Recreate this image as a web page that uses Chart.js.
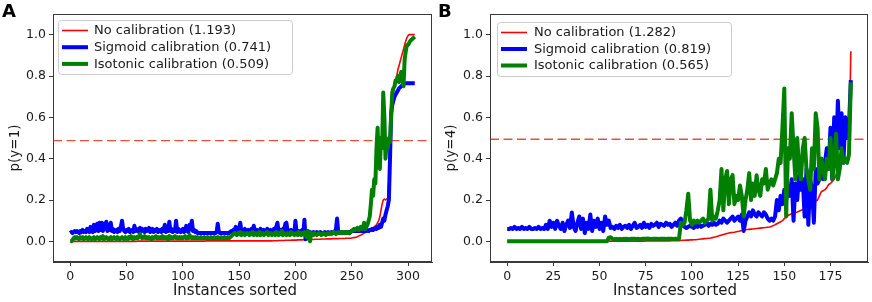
<!DOCTYPE html>
<html><head><meta charset="utf-8">
<script src="https://cdn.jsdelivr.net/npm/chart.js@4.4.0/dist/chart.umd.min.js"></script>
<style>
html,body{margin:0;padding:0;background:#fff;}
#wrap{position:relative;width:872px;height:302px;overflow:hidden;background:#fff;}
.panel{position:absolute;top:0;width:436px;height:302px;}
canvas{display:block;}
</style></head><body>
<div id="wrap">
<div class="panel" style="left:0"><canvas id="cA" width="436" height="302"></canvas></div>
<div class="panel" style="left:436px"><canvas id="cB" width="436" height="302"></canvas></div>
</div>
<script>
// ---------------- DATA ----------------
const panelLabels = ['A', 'B'];
const yTitles = ['p(y=1)', 'p(y=4)'];
const xTitle = 'Instances sorted';
const yTicks = [0.0, 0.2, 0.4, 0.6, 0.8, 1.0];
const xTicksA = [0, 50, 100, 150, 200, 250, 300];
const xTicksB = [0, 25, 50, 75, 100, 125, 150, 175];
const legendA = ['No calibration (1.193)', 'Sigmoid calibration (0.741)', 'Isotonic calibration (0.509)'];
const legendB = ['No calibration (1.282)', 'Sigmoid calibration (0.819)', 'Isotonic calibration (0.565)'];
const thresholdA = 0.487;
const thresholdB = 0.494;

// Panel A: 307 sorted instances
const redA = [
0,0,0,0,0,0,0,0,0,0,0,0,0,0,0,0,0,0,0,0,
0,0,0,0,0,0,0,0,0,0,0,0,0,0,0,0,0,0,0,0,
0,0,0,0,0,0,0,0,0,0,0,0,0,0,0,0,0,0,0,0,
0.001,0.001,0.001,0.001,0.001,0.001,0.001,0.001,0.001,0.001,0.001,0.001,0.001,0.001,0.001,0.001,0.001,0.001,0.001,0.001,
0.001,0.001,0.001,0.001,0.001,0.001,0.001,0.001,0.001,0.001,0.001,0.001,0.001,0.001,0.001,0.001,0.001,0.001,0.001,0.001,
0.001,0.001,0.001,0.001,0.001,0.001,0.001,0.001,0.001,0.001,0.001,0.001,0.001,0.001,0.001,0.001,0.001,0.001,0.001,0.001,
0.002,0.002,0.002,0.002,0.002,0.002,0.002,0.002,0.002,0.002,0.002,0.002,0.002,0.002,0.002,0.002,0.002,0.002,0.002,0.002,
0.002,0.002,0.002,0.002,0.002,0.002,0.002,0.002,0.002,0.002,0.002,0.002,0.002,0.002,0.002,0.002,0.002,0.002,0.002,0.002,
0.002,0.002,0.002,0.002,0.002,0.002,0.002,0.002,0.002,0.002,0.002,0.002,0.002,0.002,0.002,0.002,0.002,0.002,0.002,0.002,
0.003,0.003,0.003,0.003,0.003,0.004,0.004,0.004,0.004,0.004,0.004,0.005,0.005,0.005,0.005,0.005,0.005,0.006,0.006,0.006,
0.006,0.006,0.007,0.007,0.007,0.007,0.007,0.008,0.008,0.008,0.008,0.008,0.009,0.009,0.009,0.009,0.009,0.01,0.01,0.01,
0.01,0.01,0.01,0.011,0.011,0.011,0.011,0.011,0.012,0.012,0.012,0.012,0.012,0.013,0.013,0.013,0.013,0.013,0.013,0.014,
0.014,0.014,0.014,0.014,0.014,0.015,0.015,0.015,0.015,0.015,0.016,0.017,0.018,0.019,0.02,0.022,0.025,0.028,0.03,0.033,
0.036,0.04,0.043,0.046,0.05,0.053,0.056,0.06,0.063,0.066,0.07,0.075,0.08,0.09,0.1,0.12,0.15,0.18,0.2,0.205,
0.2,0.205,0.21,0.3,0.5,0.62,0.68,0.72,0.75,0.78,0.8,0.83,0.85,0.87,0.89,0.91,0.93,0.95,0.97,0.985,
0.995,1,1,1,1,1,1];

const blueA = [
0.04,0.045,0.04,0.045,0.05,0.045,0.05,0.045,0.04,0.05,0.045,0.055,0.045,0.05,0.045,0.06,0.05,0.045,0.07,0.05,
0.045,0.08,0.05,0.06,0.085,0.05,0.09,0.055,0.09,0.05,0.085,0.06,0.095,0.05,0.08,0.055,0.09,0.05,0.06,0.045,
0.05,0.055,0.045,0.06,0.05,0.07,0.1,0.06,0.05,0.045,0.055,0.05,0.06,0.045,0.05,0.055,0.045,0.075,0.05,0.06,
0.055,0.045,0.065,0.05,0.06,0.05,0.045,0.06,0.05,0.055,0.065,0.045,0.05,0.06,0.045,0.055,0.05,0.06,0.045,0.05,
0.055,0.045,0.06,0.05,0.08,0.045,0.055,0.05,0.095,0.05,0.06,0.045,0.055,0.05,0.1,0.045,0.06,0.05,0.045,0.055,
0.06,0.045,0.05,0.075,0.05,0.045,0.08,0.06,0.1,0.05,0.055,0.045,0.05,0.04,0.04,0.04,0.04,0.04,0.04,0.04,
0.04,0.04,0.04,0.04,0.04,0.04,0.04,0.04,0.04,0.04,0.045,0.085,0.045,0.04,0.04,0.04,0.04,0.04,0.04,0.04,
0.04,0.04,0.045,0.05,0.045,0.055,0.05,0.07,0.05,0.045,0.06,0.09,0.05,0.045,0.055,0.06,0.045,0.05,0.055,0.045,
0.05,0.06,0.045,0.075,0.05,0.045,0.055,0.05,0.045,0.06,0.05,0.045,0.055,0.05,0.045,0.06,0.05,0.045,0.055,0.05,
0.045,0.06,0.05,0.07,0.09,0.05,0.045,0.055,0.05,0.06,0.045,0.085,0.09,0.05,0.045,0.04,0.055,0.045,0.05,0.04,
0.1,0.045,0.04,0.05,0.045,0.04,0.055,0.04,0.105,0.01,0.045,0.05,0.04,0.045,0.04,0.04,0.045,0.04,0.04,0.045,
0.04,0.04,0.045,0.04,0.04,0.04,0.045,0.04,0.04,0.045,0.04,0.04,0.045,0.04,0.04,0.045,0.06,0.11,0.045,0.04,
0.04,0.045,0.04,0.04,0.045,0.04,0.04,0.045,0.04,0.045,0.05,0.05,0.05,0.05,0.05,0.05,0.05,0.05,0.05,0.05,
0.05,0.05,0.05,0.05,0.055,0.05,0.055,0.055,0.06,0.055,0.06,0.065,0.06,0.07,0.065,0.08,0.07,0.09,0.11,0.1,
0.13,0.15,0.17,0.2,0.4,0.62,0.66,0.68,0.7,0.71,0.72,0.73,0.74,0.745,0.75,0.755,0.76,0.765,0.765,0.765,
0.765,0.765,0.765,0.765,0.765,0.765,0.765];

const greenA = [
0,0,0.005,0.015,0.02,0.015,0.02,0.015,0.01,0.02,0.015,0.02,0.01,0.015,0.02,0.015,0.01,0.02,0.015,0.01,
0.015,0.02,0.01,0.015,0.02,0.015,0.01,0.02,0.015,0.025,0.01,0.015,0.02,0.015,0.01,0.015,0.02,0.01,0.015,0.02,
0.015,0.01,0.02,0.015,0.01,0.015,0.02,0.015,0.01,0.02,0.015,0.01,0.02,0.015,0.025,0.015,0.01,0.02,0.015,0.02,
0.015,0.025,0.035,0.02,0.015,0.02,0.025,0.015,0.02,0.015,0.02,0.015,0.01,0.02,0.015,0.02,0.025,0.015,0.02,0.015,
0.02,0.015,0.025,0.015,0.02,0.015,0.02,0.01,0.025,0.015,0.02,0.015,0.02,0.025,0.015,0.02,0.015,0.02,0.015,0.02,
0.015,0.02,0.025,0.015,0.02,0.015,0.03,0.02,0.015,0.02,0.015,0.02,0.015,0.02,0.015,0.015,0.02,0.015,0.015,0.02,
0.015,0.015,0.02,0.015,0.015,0.02,0.015,0.015,0.02,0.015,0.015,0.02,0.015,0.015,0.02,0.015,0.015,0.02,0.015,0.015,
0.02,0.015,0.02,0.025,0.03,0.035,0.04,0.035,0.03,0.04,0.035,0.045,0.03,0.035,0.04,0.03,0.035,0.04,0.035,0.03,
0.04,0.035,0.045,0.03,0.035,0.04,0.03,0.035,0.045,0.03,0.035,0.04,0.03,0.035,0.04,0.045,0.03,0.035,0.04,0.03,
0.035,0.04,0.03,0.045,0.035,0.03,0.04,0.035,0.05,0.03,0.04,0.035,0.03,0.04,0.035,0.03,0.045,0.035,0.04,0.03,
0.035,0.04,0.03,0.045,0.035,0.03,0.04,0.035,0.045,0.03,0.02,0.05,0.035,0.0,0.04,0.035,0.03,0.04,0.035,0.03,
0.035,0.04,0.035,0.03,0.035,0.04,0.035,0.03,0.035,0.04,0.035,0.04,0.035,0.04,0.045,0.04,0.035,0.04,0.045,0.04,
0.04,0.045,0.04,0.045,0.04,0.045,0.04,0.045,0.04,0.045,0.05,0.055,0.06,0.055,0.06,0.065,0.055,0.06,0.07,0.06,
0.065,0.09,0.06,0.07,0.08,0.1,0.12,0.18,0.25,0.22,0.3,0.28,0.45,0.55,0.38,0.35,0.5,0.45,0.72,0.6,
0.4,0.48,0.45,0.5,0.48,0.6,0.72,0.74,0.75,0.78,0.78,0.8,0.77,0.8,0.82,0.78,0.75,0.88,0.92,0.95,
0.95,0.96,0.97,0.975,0.98,0.985,0.99];

// Panel B: 187 sorted instances
const redB = [
0,0,0,0,0,0,0,0,0,0,0,0,0,0,0,0,0,0,0,0,
0,0,0,0,0,0,0,0,0,0,0,0,0,0,0,0,0,0,0,0,
0,0,0,0,0,0,0,0,0,0,0,0,0,0,0,
0.001,0.001,0.001,0.001,0.001,0.001,0.001,0.001,0.001,0.001,0.001,0.001,0.001,0.001,0.001,0.001,0.001,0.001,0.001,0.001,
0.002,0.002,0.002,0.002,0.002,0.002,0.002,0.002,0.002,0.002,0.002,0.002,0.002,0.002,0.003,0.003,0.003,0.003,0.003,
0.004,0.005,0.005,0.006,0.006,0.007,0.007,0.008,0.008,0.009,0.01,0.011,0.012,0.013,0.014,0.015,0.016,0.018,0.02,0.022,
0.025,0.028,0.03,0.033,0.036,0.038,0.04,0.042,0.043,0.044,0.046,0.048,0.05,0.052,0.054,0.056,0.057,0.058,0.059,0.06,
0.061,0.062,0.063,0.064,0.065,0.066,0.067,0.068,0.069,0.072,0.076,0.08,0.085,0.09,0.095,0.1,0.11,0.12,0.125,0.13,
0.133,0.136,0.139,0.142,0.146,0.15,0.153,0.157,0.16,0.165,0.17,0.18,0.19,0.195,0.2,0.22,0.24,0.245,0.25,0.26,
0.275,0.28,0.29,0.3,0.32,0.35,0.37,0.375,0.38,0.385,0.39,0.4,0.92];

const blueB = [
0.06,0.06,0.065,0.06,0.07,0.06,0.065,0.06,0.07,0.06,0.065,0.06,0.07,0.06,0.06,0.065,0.06,0.07,0.06,0.065,
0.06,0.08,0.06,0.1,0.07,0.09,0.06,0.1,0.075,0.06,0.09,0.05,0.08,0.1,0.065,0.14,0.07,0.05,0.09,0.12,
0.06,0.11,0.04,0.09,0.06,0.13,0.05,0.1,0.07,0.11,0.06,0.09,0.05,0.12,0.08,0.1,0.065,0.07,0.06,0.075,
0.065,0.08,0.06,0.07,0.075,0.065,0.08,0.06,0.075,0.09,0.065,0.07,0.08,0.065,0.09,0.07,0.08,0.065,0.085,0.075,
0.08,0.09,0.07,0.085,0.08,0.075,0.09,0.08,0.085,0.07,0.08,0.09,0.075,0.1,0.11,0.08,0.07,0.065,0.07,0.075,
0.07,0.065,0.075,0.07,0.08,0.07,0.075,0.08,0.09,0.075,0.085,0.08,0.09,0.08,0.085,0.1,0.09,0.11,0.1,0.09,
0.1,0.11,0.12,0.1,0.11,0.12,0.1,0.13,0.05,0.1,0.12,0.14,0.12,0.15,0.13,0.12,0.14,0.13,0.12,0.14,
0.13,0.11,0.1,0.11,0.1,0.12,0.2,0.15,0.22,0.18,0.25,0.2,0.27,0.22,0.3,0.1,0.28,0.2,0.32,0.25,
0.3,0.12,0.35,0.08,0.3,0.25,0.09,0.35,0.28,0.3,0.4,0.3,0.38,0.45,0.35,0.55,0.3,0.6,0.4,0.68,
0.45,0.62,0.38,0.6,0.5,0.55,0.78];

const greenB = [
0,0,0,0,0,0,0,0,0,0,0,0,0,0,0,0,0,0,0,0,
0,0,0,0,0,0,0,0,0,0,0,0,0,0,0,0,0,0,0,0,
0,0,0,0,0,0,0,0,0,0,0,0,0,0,0,
0.018,0.02,0.012,0.01,0.012,0.01,0.012,0.01,0.012,0.011,0.012,0.01,0.012,0.013,0.012,0.011,0.012,0.01,0.012,0.013,
0.012,0.014,0.012,0.011,0.012,0.013,0.012,0.011,0.012,0.013,0.012,0.011,0.012,0.013,0.012,0.011,0.012,0.011,0.012,
0.09,0.08,0.09,0.15,0.23,0.1,0.08,0.1,0.09,0.1,0.09,0.1,0.11,0.09,0.1,0.11,0.25,0.1,0.12,0.11,0.15,0.2,0.35,0.15,0.3,0.34,
0.18,0.3,0.32,0.18,0.22,0.2,0.27,0.22,0.12,0.2,0.25,0.33,0.2,0.28,0.22,0.32,0.25,0.22,0.3,0.28,0.35,0.25,0.28,0.3,0.27,0.3,0.33,0.4,0.38,0.55,
0.74,0.12,0.45,0.4,0.62,0.45,0.3,0.5,0.35,0.3,0.45,0.5,0.35,0.3,0.25,0.45,0.35,0.62,0.55,0.3,0.4,0.35,0.3,0.4,0.35,0.5,0.3,0.4,0.52,0.3,0.35,0.45,0.38,0.4,0.38,0.42,0.77];

// ---------------- RENDERING ----------------
const FONT = "'DejaVu Sans', sans-serif";
const TXT = '#1a1a1a';
const AXC = '#3a3a3a';

const toXY = arr => arr.map((v, i) => ({x: i, y: v}));

const panelPlugin = {
  id: 'panelDeco',
  afterDatasetsDraw(chart, args, opts) {
    const ctx = chart.ctx;
    const a = chart.chartArea;
    ctx.save();
    // frame
    ctx.strokeStyle = AXC; ctx.lineWidth = 1;
    ctx.strokeRect(Math.round(a.left) + 0.5, Math.round(a.top) + 0.5, Math.round(a.right - a.left) - 1, Math.round(a.bottom - a.top) - 1);
    // legend box
    const L = opts.legend;
    ctx.fillStyle = 'rgba(255,255,255,0.85)';
    ctx.strokeStyle = '#cccccc';
    ctx.lineWidth = 1;
    ctx.beginPath();
    ctx.roundRect(L.x + 0.5, L.y + 0.5, L.w, L.h, 3);
    ctx.fill(); ctx.stroke();
    const items = chart.data.datasets.filter(d => d.inLegend);
    items.forEach((d, i) => {
      const cy = L.y + L.row0 + i * L.dy;
      ctx.strokeStyle = d.borderColor;
      ctx.lineWidth = d.borderWidth;
      ctx.lineCap = 'butt';
      ctx.beginPath();
      ctx.moveTo(L.x + L.lx0, cy);
      ctx.lineTo(L.x + L.lx1, cy);
      ctx.stroke();
      ctx.fillStyle = TXT;
      ctx.font = '13px ' + FONT;
      ctx.textBaseline = 'middle';
      ctx.textAlign = 'left';
      ctx.fillText(d.label, L.x + L.tx, cy + 0.5);
    });
    // axis titles
    ctx.fillStyle = TXT;
    ctx.textAlign = 'center';
    ctx.textBaseline = 'middle';
    ctx.font = '15px ' + FONT;
    ctx.fillText(xTitle, opts.xTitleX, 291);
    ctx.save();
    ctx.translate(15, opts.yTitleY);
    ctx.rotate(-Math.PI / 2);
    ctx.font = '13.5px ' + FONT;
    ctx.fillText(opts.yTitle, 0, 0);
    ctx.restore();
    // panel letter
    ctx.fillStyle = '#000';
    ctx.font = 'bold 18px ' + FONT;
    ctx.textBaseline = 'alphabetic';
    ctx.textAlign = 'left';
    ctx.fillText(opts.letter, opts.letterX, 17);
    ctx.restore();
  }
};

function lineDS(label, arr, color, width, order) {
  return {label, data: toXY(arr), borderColor: color, backgroundColor: color, borderWidth: width,
    pointRadius: 0, pointHoverRadius: 0, tension: 0, fill: false, order, inLegend: true,
    borderJoinStyle: 'round', borderCapStyle: 'butt'};
}

function build(id, o) {
  const xMin = -0.05 * (o.n - 1), xMax = 1.05 * (o.n - 1);
  const datasets = [
    {label: 'threshold', data: [{x: xMin, y: o.thr}, {x: xMax, y: o.thr}], borderColor: '#e8503c',
      borderWidth: 1.3, borderDash: [9, 4.5], pointRadius: 0, fill: false, order: 4, inLegend: false},
    lineDS(o.legend[0], o.red, '#ff0000', 1.6, 3),
    lineDS(o.legend[1], o.blue, '#0000ff', 4, 2),
    lineDS(o.legend[2], o.green, '#008000', 4, 1)
  ];
  const gridOpt = {display: true, drawOnChartArea: false, drawTicks: true, tickLength: 4, color: AXC, lineWidth: 1};
  return new Chart(document.getElementById(id), {
    type: 'line',
    data: {datasets},
    plugins: [panelPlugin],
    options: {
      responsive: false, animation: false, devicePixelRatio: 1,
      layout: {padding: {left: 0, top: o.top, right: 4, bottom: 0}},
      plugins: {legend: {display: false}, tooltip: {enabled: false},
        panelDeco: {legend: o.legendBox, letter: o.letter, letterX: 2, xTitleX: o.xTitleX, yTitleY: 148, yTitle: o.yTitle}},
      scales: {
        x: {type: 'linear', min: xMin, max: xMax,
          afterBuildTicks: s => { s.ticks = o.xTicks.map(v => ({value: v})); },
          afterFit: s => { s.height = 40; },
          ticks: {font: {family: FONT, size: 12.5}, color: TXT, padding: 3, maxRotation: 0, autoSkip: false,
            callback: v => String(v)},
          grid: gridOpt, border: {display: true, color: AXC},
          title: {display: false}},
        y: {type: 'linear', min: -0.1, max: 1.1,
          afterBuildTicks: s => { s.ticks = yTicks.map(v => ({value: v})); },
          afterFit: s => { s.width = o.yW; },
          ticks: {font: {family: FONT, size: 12.5}, color: TXT, padding: 3, callback: v => Number(v).toFixed(1)},
          grid: gridOpt, border: {display: true, color: AXC},
          title: {display: false}}
      }
    }
  });
}

build('cA', {n: redA.length, red: redA, blue: blueA, green: greenA, thr: thresholdA, legend: legendA,
  xTicks: xTicksA, yTitle: yTitles[0], letter: panelLabels[0], top: 14, yW: 53, xTitleX: 235,
  legendBox: {x: 58, y: 20, w: 234, h: 54, lx0: 4, lx1: 30, tx: 36, row0: 10.5, dy: 16.7}});
build('cB', {n: redB.length, red: redB, blue: blueB, green: greenB, thr: thresholdB, legend: legendB,
  xTicks: xTicksB, yTitle: yTitles[1], letter: panelLabels[1], top: 14, yW: 54, xTitleX: 239,
  legendBox: {x: 61, y: 22, w: 234, h: 54, lx0: 4, lx1: 30, tx: 37, row0: 10.5, dy: 16.5}});

const lens = [redA.length, blueA.length, greenA.length, redB.length, blueB.length, greenB.length];
if (lens.slice(0,3).some(l => l !== 307) || lens.slice(3).some(l => l !== 187)) {
  throw new Error('length mismatch ' + lens.join(','));
}
</script></body></html>
